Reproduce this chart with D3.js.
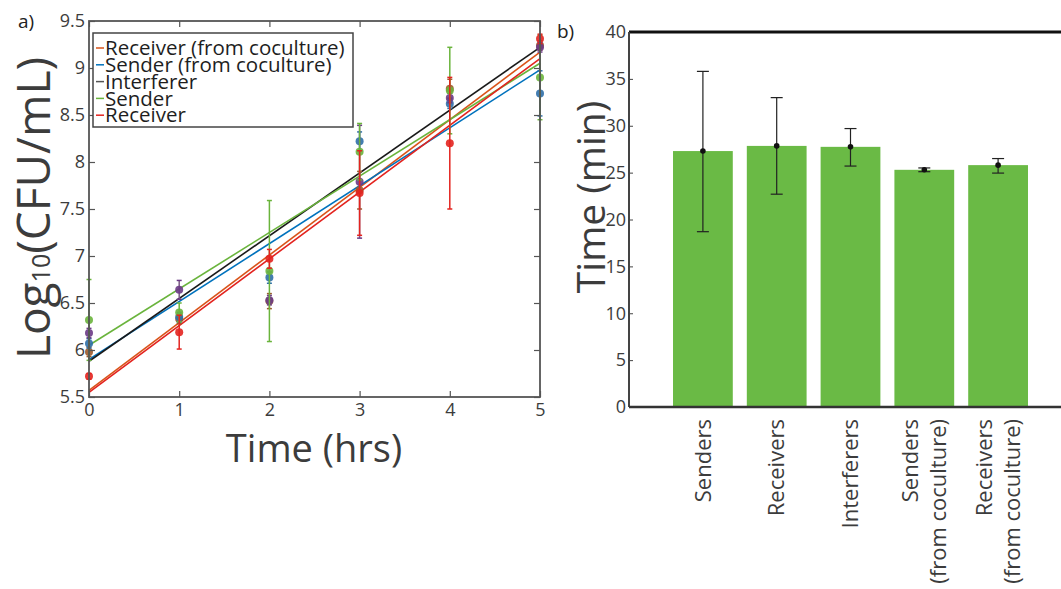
<!DOCTYPE html>
<html>
<head>
<meta charset="utf-8">
<script src="https://cdn.jsdelivr.net/npm/d3@7"></script>
<style>
  body { margin: 0; background: #fff; }
  svg { display: block; font-family: "Open Sans", sans-serif; }
</style>
</head>
<body>
<svg id="chart"></svg>
<script>
const width = 1061
const height = 589
const textColor = "#3c3c3c"

// panel a: growth curves
const hours = [0, 1, 2, 3, 4, 5]
const seriesNames = ["Receiver (from coculture)", "Sender (from coculture)", "Interferer", "Sender", "Receiver"]
const lineColors = ["#d95319", "#0072bd", "#1a1a1a", "#6ab43c", "#e3231f"]
const dotColors = ["#9c5a2c", "#2f6fa8", "#6b3a86", "#6ab43c", "#e3231f"]
const recCocMeans = [5.98, 6.33, 6.52, 7.70, 8.78, 9.24]
const senCocMeans = [6.07, 6.35, 6.77, 8.22, 8.62, 8.73]
const intMeans = [6.18, 6.64, 6.53, 7.79, 8.68, 9.22]
const senMeans = [6.32, 6.40, 6.84, 8.11, 8.76, 8.90]
const recMeans = [5.72, 6.19, 6.97, 7.67, 8.20, 9.31]
const recCocErr = [0.05, 0.05, 0.08, 0.2, 0.1, 0.05]
const senCocErr = [0.05, 0.05, 0.06, 0.1, 0.05, 0.24]
const intErr = [0.05, 0.1, 0.05, 0.6, 0.05, 0.05]
const senErr = [0.43, 0.1, 0.75, 0.3, 0.46, 0.45]
const recErr = [0.03, 0.18, 0.1, 0.45, 0.7, 0.05]
// fitted line end values at t=0 and t=5
const fitStart = [5.57, 5.90, 5.88, 6.05, 5.55]
const fitEnd = [9.17, 8.98, 9.22, 9.05, 9.10]

// panel b: doubling time
const strains = [["Senders"], ["Receivers"], ["Interferers"], ["Senders", "(from coculture)"], ["Receivers", "(from coculture)"]]
const doubling = [27.3, 27.85, 27.75, 25.3, 25.8]
const doublingLow = [18.7, 22.7, 25.7, 25.1, 24.95]
const doublingHigh = [35.8, 33.0, 29.7, 25.5, 26.5]
const barColor = "#6aba45"

const means = [recCocMeans, senCocMeans, intMeans, senMeans, recMeans]
const errs = [recCocErr, senCocErr, intErr, senErr, recErr]

const svg = d3.select("#chart")
    .attr("width", width)
    .attr("height", height)
    .style("background", "#fff")

// ---------- panel a ----------
const xA = d3.scaleLinear().domain([0, 5]).range([89, 540])
const yA = d3.scaleLinear().domain([5.5, 9.5]).range([397, 21])

const gA = svg.append("g")

// fit lines
seriesNames.forEach((name, i) => {
    gA.append("line")
        .attr("x1", xA(0)).attr("y1", yA(fitStart[i]))
        .attr("x2", xA(5)).attr("y2", yA(fitEnd[i]))
        .style("stroke", lineColors[i])
        .style("stroke-width", 1.6)
})

// points with error bars
seriesNames.forEach((name, i) => {
    const pts = hours.map((h, j) => ({h: h, v: means[i][j], e: errs[i][j]}))
    const g = gA.append("g")
    g.selectAll("line.err")
        .data(pts)
        .enter()
        .append("line")
            .attr("class", "err")
            .attr("x1", d => xA(d.h)).attr("x2", d => xA(d.h))
            .attr("y1", d => yA(d.v - d.e)).attr("y2", d => yA(d.v + d.e))
            .style("stroke", i == 2 ? "#7a5a86" : lineColors[i])
            .style("stroke-width", 1.5)
    g.selectAll("line.capLo")
        .data(pts)
        .enter()
        .append("line")
            .attr("x1", d => xA(d.h) - 2.5).attr("x2", d => xA(d.h) + 2.5)
            .attr("y1", d => yA(d.v - d.e)).attr("y2", d => yA(d.v - d.e))
            .style("stroke", dotColors[i])
            .style("stroke-width", 1.5)
    g.selectAll("line.capHi")
        .data(pts)
        .enter()
        .append("line")
            .attr("x1", d => xA(d.h) - 2.5).attr("x2", d => xA(d.h) + 2.5)
            .attr("y1", d => yA(d.v + d.e)).attr("y2", d => yA(d.v + d.e))
            .style("stroke", dotColors[i])
            .style("stroke-width", 1.5)
    g.selectAll("circle")
        .data(pts)
        .enter()
        .append("circle")
            .attr("cx", d => xA(d.h))
            .attr("cy", d => yA(d.v))
            .attr("r", 4)
            .style("fill", dotColors[i])
            .style("opacity", 0.9)
})

// axes with inward ticks on all sides
const styleAxis = (g) => {
    g.select(".domain").remove()
    g.selectAll(".tick line").style("stroke", "#555").style("stroke-width", 1.2)
    g.selectAll("text").style("fill", textColor).style("font-size", "18px")
        .style("font-family", "'Open Sans', sans-serif")
}
gA.append("g")
    .attr("transform", `translate(0, ${yA(5.5)})`)
    .call(d3.axisBottom(xA).ticks(5).tickSize(-6).tickPadding(6))
    .call(styleAxis)
gA.append("g")
    .attr("transform", `translate(${xA(0)}, 0)`)
    .call(d3.axisLeft(yA).ticks(8).tickSize(-6).tickPadding(4).tickFormat(d3.format("~g")))
    .call(styleAxis)
gA.append("g")
    .attr("transform", `translate(0, ${yA(9.5)})`)
    .call(d3.axisTop(xA).ticks(5).tickSize(-6).tickFormat(""))
    .call(styleAxis)
gA.append("g")
    .attr("transform", `translate(${xA(5)}, 0)`)
    .call(d3.axisRight(yA).ticks(8).tickSize(-6).tickFormat(""))
    .call(styleAxis)
gA.append("rect")
    .attr("x", xA(0)).attr("y", yA(9.5))
    .attr("width", xA(5) - xA(0)).attr("height", yA(5.5) - yA(9.5))
    .style("fill", "none").style("stroke", "#555").style("stroke-width", 1.8)

// legend
const legend = gA.append("g").attr("transform", "translate(93, 33)")
legend.append("rect")
    .attr("width", 260).attr("height", 94)
    .style("fill", "#fff").style("stroke", "#444").style("stroke-width", 1.5)
legend.selectAll("line")
    .data(seriesNames)
    .enter()
    .append("line")
        .attr("x1", 3).attr("x2", 11)
        .attr("y1", (d, i) => 15 + i * 16.8).attr("y2", (d, i) => 15 + i * 16.8)
        .style("stroke", (d, i) => lineColors[i] == "#1a1a1a" ? "#555" : lineColors[i])
        .style("stroke-width", 1.5)
legend.selectAll("text")
    .data(seriesNames)
    .enter()
    .append("text")
        .attr("x", 12)
        .attr("y", (d, i) => 15 + i * 16.8)
        .attr("dy", "0.35em")
        .style("font-size", "20.5px")
        .style("fill", "#1e1e1e")
        .text(d => d)

// labels
svg.append("text").attr("x", 18).attr("y", 28).style("font-size", "19px").style("fill", "#222").text("a)")
const yLab = svg.append("text")
    .attr("transform", "translate(50, 208) rotate(-90)")
    .attr("text-anchor", "middle")
    .style("font-size", "46px")
    .style("fill", textColor)
yLab.append("tspan").text("Log")
yLab.append("tspan").style("font-size", "25px").text("10")
yLab.append("tspan").text("(CFU/mL)")
svg.append("text")
    .attr("x", 314).attr("y", 462)
    .attr("text-anchor", "middle")
    .style("font-size", "38px")
    .style("fill", textColor)
    .text("Time (hrs)")

// ---------- panel b ----------
const names = strains.map(d => d.join(" "))
const xB = d3.scaleBand().domain(names).range([666, 1035]).paddingInner(0.19).paddingOuter(0.095)
const yB = d3.scaleLinear().domain([0, 40]).range([407, 32])
const gB = svg.append("g")

gB.selectAll("rect.bar")
    .data(doubling)
    .enter()
    .append("rect")
        .attr("class", "bar")
        .attr("x", (d, i) => xB(names[i]))
        .attr("y", d => yB(d))
        .attr("width", xB.bandwidth())
        .attr("height", d => yB(0) - yB(d))
        .style("fill", barColor)

gB.append("g")
    .attr("transform", `translate(629, 0)`)
    .call(d3.axisLeft(yB).ticks(8).tickSize(-4).tickPadding(3))
    .call(g => {
        g.select(".domain").remove()
        g.selectAll(".tick line").style("stroke", "#444")
        g.selectAll("text").style("fill", textColor).style("font-size", "18px")
            .style("font-family", "'Open Sans', sans-serif")
    })
gB.append("line")
    .attr("x1", 629).attr("x2", width).attr("y1", yB(40)).attr("y2", yB(40))
    .style("stroke", "#111").style("stroke-width", 3)
gB.append("line")
    .attr("x1", 629).attr("x2", 629).attr("y1", yB(40)).attr("y2", yB(0))
    .style("stroke", "#444").style("stroke-width", 2)
gB.append("line")
    .attr("x1", 629).attr("x2", width).attr("y1", yB(0)).attr("y2", yB(0))
    .style("stroke", "#333").style("stroke-width", 2.5)

// error bars
const ebX = (i) => xB(names[i]) + xB.bandwidth() / 2
gB.selectAll("line.eb")
    .data(doubling)
    .enter()
    .append("line")
        .attr("x1", (d, i) => ebX(i)).attr("x2", (d, i) => ebX(i))
        .attr("y1", (d, i) => yB(doublingLow[i])).attr("y2", (d, i) => yB(doublingHigh[i]))
        .style("stroke", "#222").style("stroke-width", 1.2)
const caps = doublingLow.map((d, i) => ({i: i, v: d})).concat(doublingHigh.map((d, i) => ({i: i, v: d})))
gB.selectAll("line.cap")
    .data(caps)
    .enter()
    .append("line")
        .attr("x1", d => ebX(d.i) - 6).attr("x2", d => ebX(d.i) + 6)
        .attr("y1", d => yB(d.v)).attr("y2", d => yB(d.v))
        .style("stroke", "#222").style("stroke-width", 1.2)
gB.selectAll("circle")
    .data(doubling)
    .enter()
    .append("circle")
        .attr("cx", (d, i) => ebX(i))
        .attr("cy", d => yB(d))
        .attr("r", 2.8)
        .style("fill", "#111")

// category labels, rotated
strains.forEach((lines, i) => {
    const cx = ebX(i)
    lines.forEach((t, k) => {
        const off = (k - (lines.length - 1) / 2) * 28
        svg.append("text")
            .attr("transform", `translate(${cx + off}, 419) rotate(-90)`)
            .attr("text-anchor", "end")
            .attr("dy", "0.35em")
            .style("font-size", "22px")
            .style("fill", textColor)
            .text(t)
    })
})

svg.append("text").attr("x", 557).attr("y", 38).style("font-size", "19px").style("fill", "#222").text("b)")
svg.append("text")
    .attr("transform", "translate(605, 197) rotate(-90)")
    .attr("text-anchor", "middle")
    .style("font-size", "39px")
    .style("fill", textColor)
    .text("Time (min)")
</script>
</body>
</html>
